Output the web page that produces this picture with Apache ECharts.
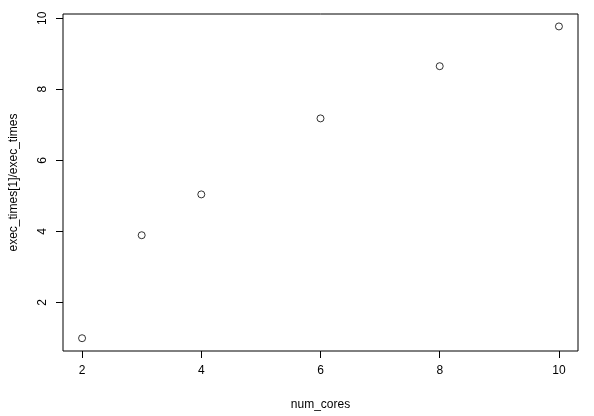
<!DOCTYPE html>
<html><head><meta charset="utf-8">
<script src="https://cdn.jsdelivr.net/npm/echarts@6/dist/echarts.min.js"></script>
<style>html,body{margin:0;padding:0;background:#fff}#c{width:594px;height:416px}</style>
</head><body><div id="c"></div>
<script>
const numCores = [2, 3, 4, 6, 8, 10];
const speedup = [0.99, 3.89, 5.04, 7.18, 8.65, 9.77];
const xTicks = [2, 4, 6, 8, 10];
const yTicks = [2, 4, 6, 8, 10];
const chart = echarts.init(document.getElementById('c'));
const font = 'Liberation Sans, Arial, sans-serif';
chart.setOption({
  animation: false,
  grid: {left: 60, right: 16, top: 14, bottom: 65, show: true, borderColor: '#000', borderWidth: 1, backgroundColor: 'transparent'},
  xAxis: {
    type: 'value', min: 1.68, max: 10.32,
    name: 'num_cores', nameLocation: 'middle', nameGap: 48,
    nameTextStyle: {color: '#000', fontSize: 12, fontFamily: font},
    axisLine: {show: false},
    axisTick: {show: true, inside: false, length: 7, customValues: xTicks, lineStyle: {color: '#000'}},
    axisLabel: {customValues: xTicks, color: '#000', fontSize: 12, fontFamily: font, margin: 14},
    splitLine: {show: false}
  },
  yAxis: {
    type: 'value', min: 0.63, max: 10.12,
    name: 'exec_times[1]/exec_times', nameLocation: 'middle', nameGap: 43,
    nameTextStyle: {color: '#000', fontSize: 12, fontFamily: font},
    axisLine: {show: false},
    axisTick: {show: true, inside: false, length: 7, customValues: yTicks, lineStyle: {color: '#000'}},
    axisLabel: {customValues: yTicks, rotate: 90, color: '#000', fontSize: 12, fontFamily: font, margin: 14},
    splitLine: {show: false}
  },
  series: [{
    type: 'scatter', symbol: 'circle', symbolSize: 7,
    itemStyle: {color: '#fff', borderColor: '#000', borderWidth: 1},
    data: numCores.map((x, i) => [x, speedup[i]])
  }]
});
</script></body></html>
